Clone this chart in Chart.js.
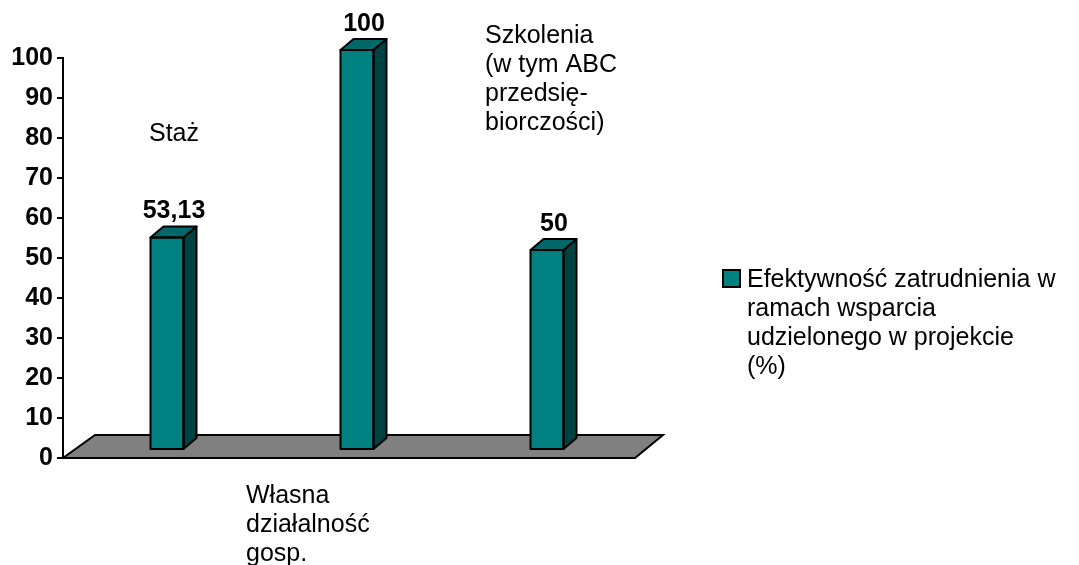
<!DOCTYPE html>
<html>
<head>
<meta charset="utf-8">
<title>Efektywność zatrudnienia</title>
<script src="https://cdn.jsdelivr.net/npm/chart.js"></script>
<style>
  html, body { margin: 0; padding: 0; background: #fff; }
  #wrap { width: 1079px; height: 565px; }
</style>
</head>
<body>
<div id="wrap"><canvas id="myChart" width="1079" height="565"></canvas></div>
<script>
// dane wykresu
const kategorie = [
  ["Staż"],
  ["Własna", "działalność", "gosp."],
  ["Szkolenia", "(w tym ABC", "przedsię-", "biorczości)"]
];
const wartosci = [53.13, 100, 50];
const etykietyWartosci = ["53,13", "100", "50"];
const tickiY = [0, 10, 20, 30, 40, 50, 60, 70, 80, 90, 100];
const nazwaSerii = ["Efektywność zatrudnienia w", "ramach wsparcia", "udzielonego w projekcie", "(%)"];

const FONT = '"Liberation Sans", Arial, sans-serif';
const TEAL = '#008080';
const TEAL_SIDE = '#004242';
const TEAL_TOP = '#006868';
const DX = 13, DY = -11;          // glebokosc slupka
const PRZES_X = 9, PRZES_Y = -8;  // przesuniecie slupkow w glab podlogi

// gdzie stoja podpisy kategorii (tak jak w Excelu, kazdy gdzie indziej)
const pozycjePodpisow = [
  { x: 149, y: 141 },
  { x: 246, y: 503 },
  { x: 485, y: 43 }
];

const plugin3d = {
  id: 'plugin3d',
  beforeDatasetsDraw(chart) {
    const c = chart.ctx;
    const a = chart.chartArea;
    // podloga
    c.save();
    c.beginPath();
    c.moveTo(a.left, a.bottom);
    c.lineTo(a.right + 2, a.bottom);
    c.lineTo(a.right + 30, a.bottom - 23);
    c.lineTo(a.left + 32, a.bottom - 23);
    c.closePath();
    c.fillStyle = '#808080';
    c.fill();
    c.lineWidth = 2;
    c.strokeStyle = '#000';
    c.lineJoin = 'miter';
    c.stroke();
    c.restore();
    c.save();
    c.translate(PRZES_X, PRZES_Y);
  },
  afterDatasetsDraw(chart) {
    const c = chart.ctx;
    const meta = chart.getDatasetMeta(0);
    meta.data.forEach((bar, i) => {
      const l = bar.x - bar.width / 2;
      const r = bar.x + bar.width / 2;
      const t = bar.y;
      const b = bar.base;
      c.lineWidth = 2;
      c.strokeStyle = '#000';
      c.lineJoin = 'round';
      // bok
      c.beginPath();
      c.moveTo(r, t);
      c.lineTo(r + DX, t + DY);
      c.lineTo(r + DX, b + DY);
      c.lineTo(r, b);
      c.closePath();
      c.fillStyle = TEAL_SIDE;
      c.fill();
      c.stroke();
      // gora
      c.beginPath();
      c.moveTo(l, t);
      c.lineTo(l + DX, t + DY);
      c.lineTo(r + DX, t + DY);
      c.lineTo(r, t);
      c.closePath();
      c.fillStyle = TEAL_TOP;
      c.fill();
      c.stroke();
      // przod (obrys jeszcze raz, zeby byl rowny)
      c.strokeRect(l, t, r - l, b - t);
      // wartosc
      c.fillStyle = '#000';
      c.font = 'bold 25px ' + FONT;
      c.textAlign = 'center';
      c.textBaseline = 'alphabetic';
      c.fillText(etykietyWartosci[i], bar.x + 7, t + DY - 8);
    });
    c.restore();
  },
  afterDraw(chart) {
    const c = chart.ctx;
    c.save();
    c.fillStyle = '#000';
    c.font = '25px ' + FONT;
    c.textAlign = 'left';
    c.textBaseline = 'alphabetic';
    kategorie.forEach((linie, i) => {
      const p = pozycjePodpisow[i];
      linie.forEach((txt, j) => c.fillText(txt, p.x, p.y + j * 29));
    });
    // legenda
    c.fillStyle = TEAL;
    c.fillRect(723, 270, 17, 17);
    c.lineWidth = 2;
    c.strokeStyle = '#000';
    c.strokeRect(723, 270, 17, 17);
    c.fillStyle = '#000';
    nazwaSerii.forEach((txt, j) => c.fillText(txt, 747, 287 + j * 29));
    c.restore();
  }
};

const ctx = document.getElementById('myChart').getContext('2d');
const myChart = new Chart(ctx, {
  type: 'bar',
  data: {
    labels: kategorie,
    datasets: [{
      label: nazwaSerii.join(' '),
      data: wartosci,
      backgroundColor: TEAL,
      borderColor: '#000',
      borderWidth: 0,
      barThickness: 33,
      clip: false
    }]
  },
  options: {
    responsive: false,
    animation: false,
    layout: { padding: { left: 0, right: 446, top: 58, bottom: 107 } },
    plugins: {
      legend: { display: false },
      tooltip: { enabled: false }
    },
    scales: {
      x: { display: false },
      y: {
        min: 0,
        max: 100,
        afterFit(scale) { scale.width = 63; },
        afterBuildTicks(scale) { scale.ticks = tickiY.map(v => ({ value: v })); },
        ticks: {
          color: '#000',
          font: { family: FONT, size: 25, weight: 'bold' },
          padding: 4
        },
        grid: {
          drawOnChartArea: false,
          tickLength: 6,
          color: '#000',
          lineWidth: 2
        },
        border: { color: '#000', width: 2 }
      }
    }
  },
  plugins: [plugin3d]
});
</script>
</body>
</html>
